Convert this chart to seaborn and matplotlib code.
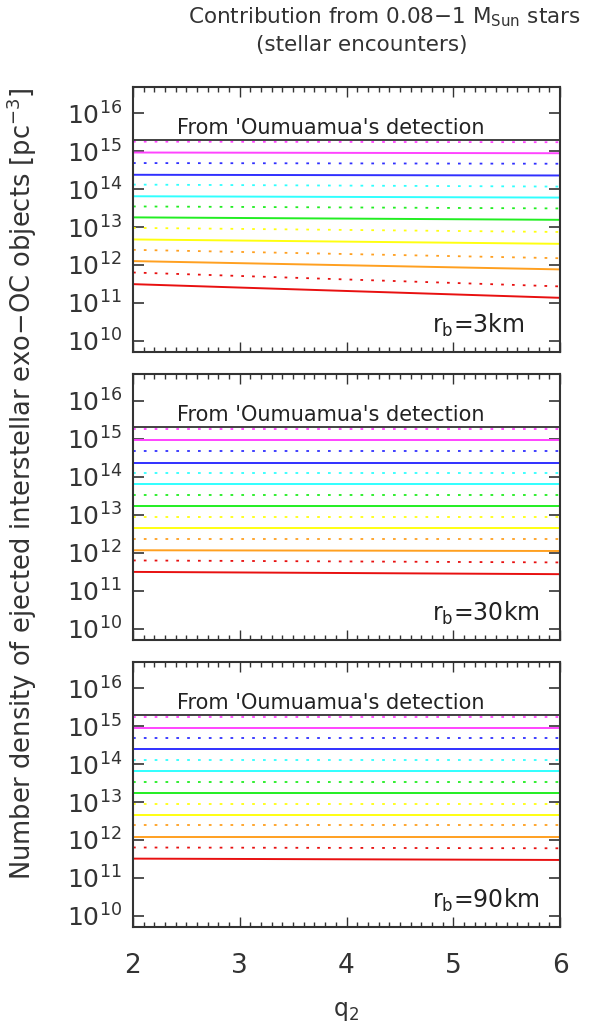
import matplotlib
matplotlib.use("Agg")
import numpy as np
import matplotlib.pyplot as plt
import matplotlib.ticker as mticker
import seaborn as sns

# q2 end points of each curve
q2 = [2, 6]

# From 'Oumuamua's detection
oumuamua = 2.0e15

line_colors = ["#ff44ff", "#3030ff", "#30ffff", "#22ee22", "#ffff10", "#ffa020", "#e81010"]

# r_b = 3 km  (values at q2 = 2 and q2 = 6)
rb3_solid_2 = [9.3e14, 2.4e14, 6.5e13, 1.8e13, 4.7e12, 1.26e12, 3.1e11]
rb3_solid_6 = [8.9e14, 2.3e14, 6.0e13, 1.55e13, 3.6e12, 7.6e11, 1.35e11]
rb3_dotted_2 = [1.8e15, 4.9e14, 1.32e14, 3.5e13, 9.5e12, 2.5e12, 6.3e11]
rb3_dotted_6 = [1.74e15, 4.7e14, 1.17e14, 3.1e13, 7.4e12, 1.5e12, 2.7e11]

# r_b = 30 km
rb30_solid_2 = [8.9e14, 2.3e14, 6.2e13, 1.66e13, 4.4e12, 1.15e12, 3.1e11]
rb30_solid_6 = [8.9e14, 2.3e14, 6.2e13, 1.66e13, 4.4e12, 1.1e12, 2.7e11]
rb30_dotted_2 = [1.8e15, 4.7e14, 1.23e14, 3.3e13, 8.7e12, 2.3e12, 6.2e11]
rb30_dotted_6 = [1.8e15, 4.7e14, 1.23e14, 3.3e13, 8.7e12, 2.3e12, 5.5e11]

# r_b = 90 km
rb90_solid_2 = [9.3e14, 2.45e14, 6.5e13, 1.7e13, 4.5e12, 1.2e12, 3.2e11]
rb90_solid_6 = [9.3e14, 2.45e14, 6.5e13, 1.7e13, 4.5e12, 1.2e12, 2.95e11]
rb90_dotted_2 = [1.8e15, 4.9e14, 1.32e14, 3.4e13, 8.9e12, 2.4e12, 6.3e11]
rb90_dotted_6 = [1.8e15, 4.9e14, 1.32e14, 3.4e13, 8.9e12, 2.4e12, 6.0e11]

panels = [
    ("3km", rb3_solid_2, rb3_solid_6, rb3_dotted_2, rb3_dotted_6),
    ("30km", rb30_solid_2, rb30_solid_6, rb30_dotted_2, rb30_dotted_6),
    ("90km", rb90_solid_2, rb90_solid_6, rb90_dotted_2, rb90_dotted_6),
]

sns.set_style("ticks")
plt.rcParams["font.family"] = ["DejaVu Sans"]
plt.rcParams["mathtext.default"] = "regular"

fig = plt.figure(figsize=(5.9, 10.25), dpi=100)
fc = "#333333"

# axes boxes in figure pixels: top, bottom
boxes = [(87, 352), (374, 640), (662, 927)]
left, right = 133, 560

for i, (rb, s2, s6, d2, d6) in enumerate(panels):
    top, bot = boxes[i]
    ax = fig.add_axes([left / 590, 1 - bot / 1025, (right - left) / 590, (bot - top) / 1025])
    ax.set_yscale("log")

    for c, a, b in zip(line_colors, d2, d6):
        sns.lineplot(x=q2, y=[a, b], color=c, lw=1.3, ax=ax, dashes=(1.5, 4.5))
    for c, a, b in zip(line_colors, s2, s6):
        sns.lineplot(x=q2, y=[a, b], color=c, lw=1.4, ax=ax)
    sns.lineplot(x=q2, y=[oumuamua, oumuamua], color=fc, lw=1.3, ax=ax)

    ax.text(2.41, oumuamua * 1.12, "From 'Oumuamua's detection", fontsize=15,
            color="#222222", va="bottom", ha="left")
    ax.text(0.70, 0.10, "r$_b$=" + rb, transform=ax.transAxes, fontsize=17,
            color="#222222", va="center", ha="left")

    ax.set_xlim(2, 6)
    ax.set_ylim(5e9, 5e16)
    ax.yaxis.set_major_locator(mticker.LogLocator(base=10, numticks=20))
    ax.yaxis.set_minor_locator(mticker.NullLocator())
    ax.xaxis.set_major_locator(mticker.MultipleLocator(1))
    ax.xaxis.set_minor_locator(mticker.MultipleLocator(0.1))
    ax.tick_params(which="both", direction="in", top=True, right=True, color=fc)
    ax.tick_params(axis="y", which="major", length=8, width=1.2, labelsize=18, pad=8)
    ax.tick_params(axis="x", which="major", length=7, width=1.0, labelsize=19, pad=19)
    ax.tick_params(axis="x", which="minor", length=3.5, width=1.0)
    for sp in ax.spines.values():
        sp.set_color(fc)
        sp.set_linewidth(1.5)
    ax.set_xlabel("")
    ax.set_ylabel("")
    for lab in ax.get_yticklabels():
        lab.set_color("#333333")
    if i < 2:
        ax.set_xticklabels([])
    else:
        for lab in ax.get_xticklabels():
            lab.set_color("#333333")
        ax.set_xlabel("q$_2$", fontsize=17, color="#333333", labelpad=14)

fig.text(384 / 590, 1 - 17 / 1025, "Contribution from 0.08\u22121 M$_{Sun}$ stars",
         ha="center", va="center", fontsize=15.5, color="#333333")
fig.text(362 / 590, 1 - 45 / 1025, "(stellar encounters)",
         ha="center", va="center", fontsize=15.5, color="#333333")
fig.text(22 / 590, 1 - 484 / 1025, "Number density of ejected interstellar exo\u2212OC objects [pc$^{-3}$]",
         rotation=90, ha="center", va="center", fontsize=18.5, color="#333333")

fig.savefig("out.png", dpi=100)
